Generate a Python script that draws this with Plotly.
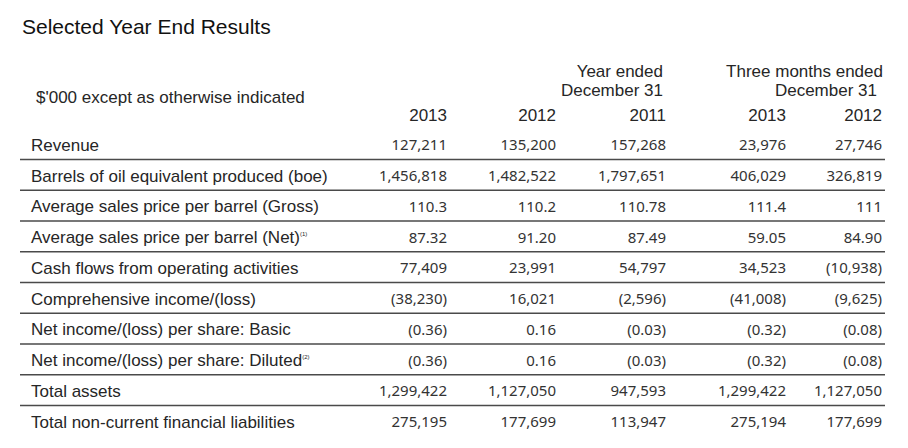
import plotly.graph_objects as go

title = "Selected Year End Results"
unit_note = "$'000 except as otherwise indicated"

group_headers = [["Year ended", "December 31"], ["Three months ended", "December 31"]]
years = ["2013", "2012", "2011", "2013", "2012"]

row_labels = [
    "Revenue",
    "Barrels of oil equivalent produced (boe)",
    "Average sales price per barrel (Gross)",
    "Average sales price per barrel (Net)<sup><span style='font-size:6px'>(1)</span></sup>",
    "Cash flows from operating activities",
    "Comprehensive income/(loss)",
    "Net income/(loss) per share: Basic",
    "Net income/(loss) per share: Diluted<sup><span style='font-size:6px'>(2)</span></sup>",
    "Total assets",
    "Total non-current financial liabilities",
]

fy_2013 = ["127,211", "1,456,818", "110.3", "87.32", "77,409", "(38,230)", "(0.36)", "(0.36)", "1,299,422", "275,195"]
fy_2012 = ["135,200", "1,482,522", "110.2", "91.20", "23,991", "16,021", "0.16", "0.16", "1,127,050", "177,699"]
fy_2011 = ["157,268", "1,797,651", "110.78", "87.49", "54,797", "(2,596)", "(0.03)", "(0.03)", "947,593", "113,947"]
q4_2013 = ["23,976", "406,029", "111.4", "59.05", "34,523", "(41,008)", "(0.32)", "(0.32)", "1,299,422", "275,194"]
q4_2012 = ["27,746", "326,819", "111", "84.90", "(10,938)", "(9,625)", "(0.08)", "(0.08)", "1,127,050", "177,699"]

columns = [fy_2013, fy_2012, fy_2011, q4_2013, q4_2012]

# layout constants (page pixels; the page body has an 8px margin)
W, H = 908, 448
PAD = 8
col_right = [447, 556, 666, 786, 882]
label_x = 31
row_y0 = 146.5
row_pitch = 30.75
line_x0, line_x1 = 20, 885
txt_color = "#262626"
label_font = dict(family="Liberation Sans, Arial, sans-serif", size=17, color=txt_color)
num_font = dict(family="Noto Sans, sans-serif", size=15, color="#333333")

row_y = [row_y0 + i * row_pitch for i in range(len(row_labels))]

fig = go.Figure()

# row labels
fig.add_trace(go.Scatter(
    x=[label_x] * len(row_labels), y=row_y, text=row_labels,
    mode="text", textposition="middle right", textfont=label_font,
    hoverinfo="skip", showlegend=False,
))

# numbers
for cx, vals in zip(col_right, columns):
    fig.add_trace(go.Scatter(
        x=[cx] * len(vals), y=row_y, text=vals,
        mode="text", textposition="middle left", textfont=num_font,
        hoverinfo="skip", showlegend=False,
    ))

# year header row
fig.add_trace(go.Scatter(
    x=col_right, y=[116.5] * len(years), text=years,
    mode="text", textposition="middle left", textfont=label_font,
    hoverinfo="skip", showlegend=False,
))

# group headers
fig.add_trace(go.Scatter(
    x=[663, 663, 883, 877], y=[72.5, 91.5, 72.5, 91.5],
    text=[group_headers[0][0], group_headers[0][1], group_headers[1][0], group_headers[1][1]],
    mode="text", textposition="middle left", textfont=label_font,
    hoverinfo="skip", showlegend=False,
))

# separator lines between rows
lx, ly = [], []
for y in row_y[:-1]:
    lx += [line_x0, line_x1, None]
    ly += [y + 13, y + 13, None]
fig.add_trace(go.Scatter(
    x=lx, y=ly, mode="lines", line=dict(color="#4a4a4a", width=1.6),
    hoverinfo="skip", showlegend=False,
))

fig.add_annotation(x=20, y=26, xref="x", yref="y", text=title, showarrow=False,
                   xanchor="left", yanchor="middle",
                   font=dict(family="Liberation Sans, Arial, sans-serif", size=21, color="#111111"))
fig.add_annotation(x=34, y=97, xref="x", yref="y", text=unit_note, showarrow=False,
                   xanchor="left", yanchor="middle", font=label_font)

fig.update_layout(
    width=W, height=H, autosize=False,
    margin=dict(l=0, r=0, t=0, b=0),
    paper_bgcolor="white", plot_bgcolor="white",
    xaxis=dict(range=[PAD, W + PAD], visible=False, fixedrange=True),
    yaxis=dict(range=[H + PAD, PAD], visible=False, fixedrange=True),
)

fig.write_html("out.html", config={"displayModeBar": False})
